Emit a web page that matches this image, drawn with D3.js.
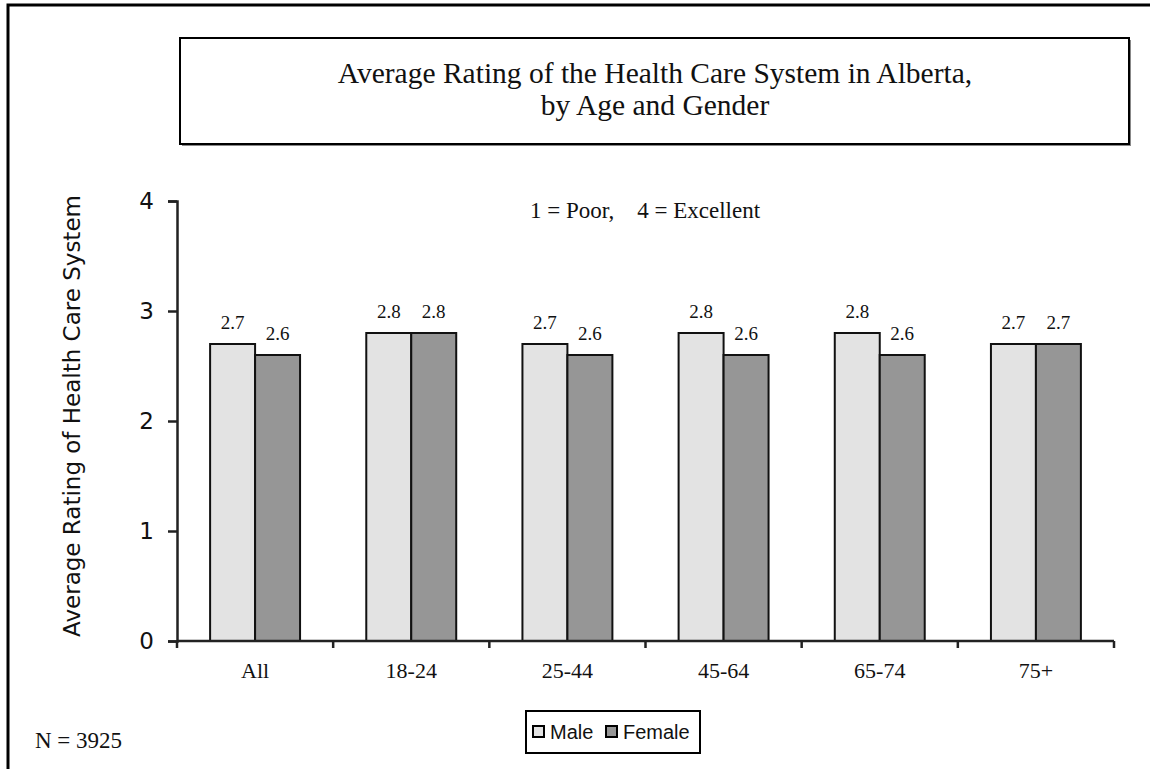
<!DOCTYPE html>
<html><head><meta charset="utf-8">
<script src="https://cdn.jsdelivr.net/npm/d3@7"></script>
<style>body{margin:0;background:#fff}svg{display:block}</style>
</head><body>
<svg id="c" width="1150" height="769"></svg>
<script>
const categories = ["All", "18-24", "25-44", "45-64", "65-74", "75+"];
const seriesNames = ["Male", "Female"];
const maleValues = [2.7, 2.8, 2.7, 2.8, 2.8, 2.7];
const femaleValues = [2.6, 2.8, 2.6, 2.6, 2.6, 2.7];
const yTicks = [0, 1, 2, 3, 4];
const colors = {Male: "#e3e3e3", Female: "#969696"};

const svg = d3.select("#c");
const serif = "'Liberation Serif','Times New Roman',serif";
const sans = "'DejaVu Sans',Verdana,sans-serif";

// outer frame (top and left only)
svg.append("path").attr("d", "M8,769 V5 H1150").attr("fill", "none").attr("stroke", "#000").attr("stroke-width", 3);

// title box
svg.append("rect").attr("x", 182).attr("y", 40).attr("width", 949).attr("height", 106).attr("fill", "#888");
svg.append("rect").attr("x", 180).attr("y", 38).attr("width", 949).attr("height", 106).attr("fill", "#fff").attr("stroke", "#000").attr("stroke-width", 2);
svg.append("text").attr("x", 655).attr("y", 83).attr("text-anchor", "middle").style("font-family", serif).style("font-size", "29.5px").attr("fill", "#111").text("Average Rating of the Health Care System in Alberta,");
svg.append("text").attr("x", 655).attr("y", 115).attr("text-anchor", "middle").style("font-family", serif).style("font-size", "29.5px").attr("fill", "#111").text("by Age and Gender");

const x0 = 177, x1 = 1114, yTop = 201, yBot = 641;
const x = d3.scaleBand().domain(categories).range([x0, x1]).paddingInner(0.424).paddingOuter(0.212);
const xs = d3.scaleBand().domain(seriesNames).range([0, x.bandwidth()]);
const y = d3.scaleLinear().domain([0, 4]).range([yBot, yTop]);

// subtitle
svg.append("text").attr("x", 645).attr("y", 218).attr("text-anchor", "middle").style("font-family", serif).style("font-size", "23px").attr("fill", "#111").attr("xml:space", "preserve").text("1 = Poor,    4 = Excellent");

const data = categories.map((c, i) => ({cat: c, vals: [{s: "Male", v: maleValues[i]}, {s: "Female", v: femaleValues[i]}]}));

const g = svg.append("g");
const grp = g.selectAll("g.grp").data(data).join("g").attr("transform", d => `translate(${x(d.cat)},0)`);
grp.selectAll("rect").data(d => d.vals).join("rect")
  .attr("x", d => xs(d.s)).attr("y", d => y(d.v)).attr("width", xs.bandwidth()).attr("height", d => y(0) - y(d.v))
  .attr("fill", d => colors[d.s]).attr("stroke", "#111").attr("stroke-width", 2);
grp.selectAll("text").data(d => d.vals).join("text")
  .attr("x", d => xs(d.s) + xs.bandwidth() / 2).attr("y", d => y(d.v) - 15)
  .attr("text-anchor", "middle").style("font-family", serif).style("font-size", "19px").attr("fill", "#111")
  .text(d => d.v.toFixed(1));

// y axis
const yAxis = svg.append("g").attr("transform", `translate(${x0},0)`)
  .call(d3.axisLeft(y).tickValues(yTicks).tickFormat(d3.format("d")).tickSize(9).tickPadding(14));
yAxis.select(".domain").attr("stroke", "#222").attr("stroke-width", 2.5);
yAxis.selectAll(".tick line").attr("stroke", "#222").attr("stroke-width", 2.5);
yAxis.selectAll(".tick text").style("font-family", sans).style("font-size", "23px").attr("fill", "#111");

// x axis
const xa = svg.append("g").attr("transform", `translate(0,${yBot})`);
xa.append("line").attr("x1", x0).attr("x2", x1).attr("stroke", "#222").attr("stroke-width", 2.5);
const bounds = categories.map((c, i) => x0 + i * x.step()).concat([x1]);
xa.selectAll("line.t").data(bounds).join("line").attr("class", "t")
  .attr("x1", d => d).attr("x2", d => d).attr("y1", 0).attr("y2", 7).attr("stroke", "#222").attr("stroke-width", 2.5);
xa.selectAll("text").data(categories).join("text")
  .attr("x", d => x(d) + x.bandwidth() / 2).attr("y", 37).attr("text-anchor", "middle")
  .style("font-family", serif).style("font-size", "22px").attr("fill", "#111").text(d => d);

// y axis title
svg.append("text").attr("transform", "translate(80,416) rotate(-90)").attr("text-anchor", "middle")
  .style("font-family", sans).style("font-size", "23px").attr("fill", "#111").text("Average Rating of Health Care System");

// legend
const lg = svg.append("g");
lg.append("rect").attr("x", 526).attr("y", 711).attr("width", 174).attr("height", 42).attr("fill", "#fff").attr("stroke", "#000").attr("stroke-width", 2);
const litems = [{s: "Male", x: 533}, {s: "Female", x: 606}];
lg.selectAll("rect.k").data(litems).join("rect").attr("class", "k")
  .attr("x", d => d.x).attr("y", 726).attr("width", 11).attr("height", 11)
  .attr("fill", d => colors[d.s]).attr("stroke", "#000").attr("stroke-width", 2);
lg.selectAll("text").data(litems).join("text")
  .attr("x", d => d.x + 17).attr("y", 739).style("font-family", "'Liberation Sans',Arial,sans-serif").style("font-size", "20px").attr("fill", "#111").text(d => d.s);

svg.append("text").attr("x", 35).attr("y", 748).style("font-family", serif).style("font-size", "23px").attr("fill", "#111").text("N = 3925");
</script>
</body></html>
